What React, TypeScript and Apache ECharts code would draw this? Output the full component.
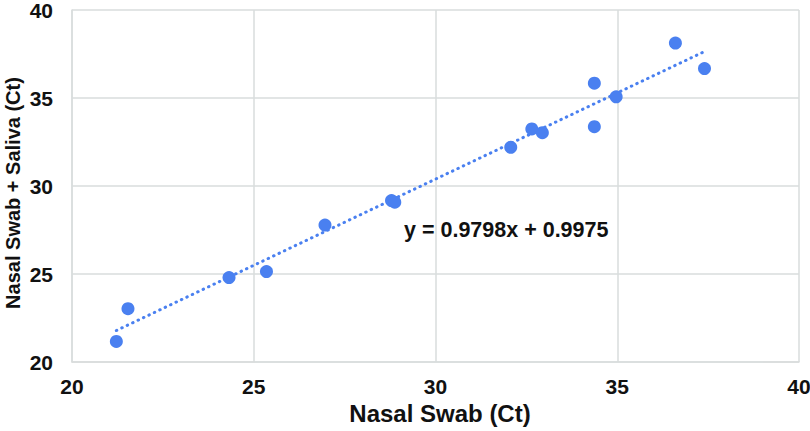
import React, { useEffect, useRef } from "react";
import * as echarts from "echarts";

const nasalSwab = [21.22, 21.54, 24.32, 25.35, 26.96, 28.79, 28.88, 32.07, 32.65, 32.94, 34.37, 34.37, 34.97, 36.6, 37.4];
const nasalSalivaSwab = [21.17, 23.03, 24.8, 25.14, 27.78, 29.17, 29.08, 32.2, 33.24, 33.03, 35.84, 33.37, 35.07, 38.12, 36.67];
const slope = 0.9798;
const intercept = 0.9975;
const equationLabel = "y = 0.9798x + 0.9975";
const xAxisTitle = "Nasal Swab (Ct)";
const yAxisTitle = "Nasal Swab + Saliva (Ct)";
const axisMin = 20;
const axisMax = 40;
const axisStep = 5;

const BLUE = "#4a80f0";
const FONT = "'Liberation Sans', Arial, sans-serif";

export default function App() {
  const ref = useRef<HTMLDivElement>(null);
  useEffect(() => {
    if (!ref.current) return;
    const chart = echarts.init(ref.current, null, { renderer: "svg" });
    const points = nasalSwab.map((x, i) => [x, nasalSalivaSwab[i]]);
    const xLo = Math.min(...nasalSwab);
    const xHi = Math.max(...nasalSwab);
    const trend = [
      [xLo, slope * xLo + intercept],
      [xHi, slope * xHi + intercept],
    ];
    const axisCommon = {
      type: "value",
      min: axisMin,
      max: axisMax,
      interval: axisStep,
      nameLocation: "middle",
      axisLine: { show: true, lineStyle: { color: "#d9dcdc", width: 1.5 } },
      axisTick: { show: false },
      splitLine: { show: true, lineStyle: { color: "#d9dcdc", width: 1.5 } },
      axisLabel: { color: "#111", fontFamily: FONT, fontWeight: "bold", fontSize: 21 },
    };
    chart.setOption({
      animation: false,
      backgroundColor: "#fff",
      grid: { left: 72, right: 11, top: 10, bottom: 69, outerBoundsMode: "none", containLabel: false },
      xAxis: {
        ...axisCommon,
        name: xAxisTitle,
        nameGap: 39,
        nameTextStyle: { color: "#111", fontFamily: FONT, fontWeight: "bold", fontSize: 24, padding: [0, 0, 0, 9] },
        axisLabel: { ...axisCommon.axisLabel, margin: 14 },
      },
      yAxis: {
        ...axisCommon,
        axisLabel: { ...axisCommon.axisLabel, margin: 19 },
      },
      series: [
        {
          type: "line",
          data: trend,
          showSymbol: false,
          symbol: "none",
          lineStyle: { color: BLUE, width: 3, type: [0.5, 5.5], cap: "round" },
          z: 1,
        },
        {
          type: "scatter",
          data: points,
          symbolSize: 13,
          itemStyle: { color: BLUE, opacity: 1 },
          z: 2,
        },
      ],
      graphic: [
        {
          type: "text",
          left: 404,
          top: 219,
          style: {
            text: equationLabel,
            fill: "#111",
            font: `bold 21.5px ${FONT}`,
          },
        },
        {
          type: "text",
          x: 13,
          y: 193,
          rotation: Math.PI / 2,
          style: {
            text: yAxisTitle,
            fill: "#111",
            font: `bold 20px ${FONT}`,
            align: "center",
            verticalAlign: "middle",
          },
        },
      ],
    });
    return () => chart.dispose();
  }, []);
  return <div ref={ref} style={{ width: 810, height: 431, position: "absolute", left: 0, top: 0 }} />;
}
